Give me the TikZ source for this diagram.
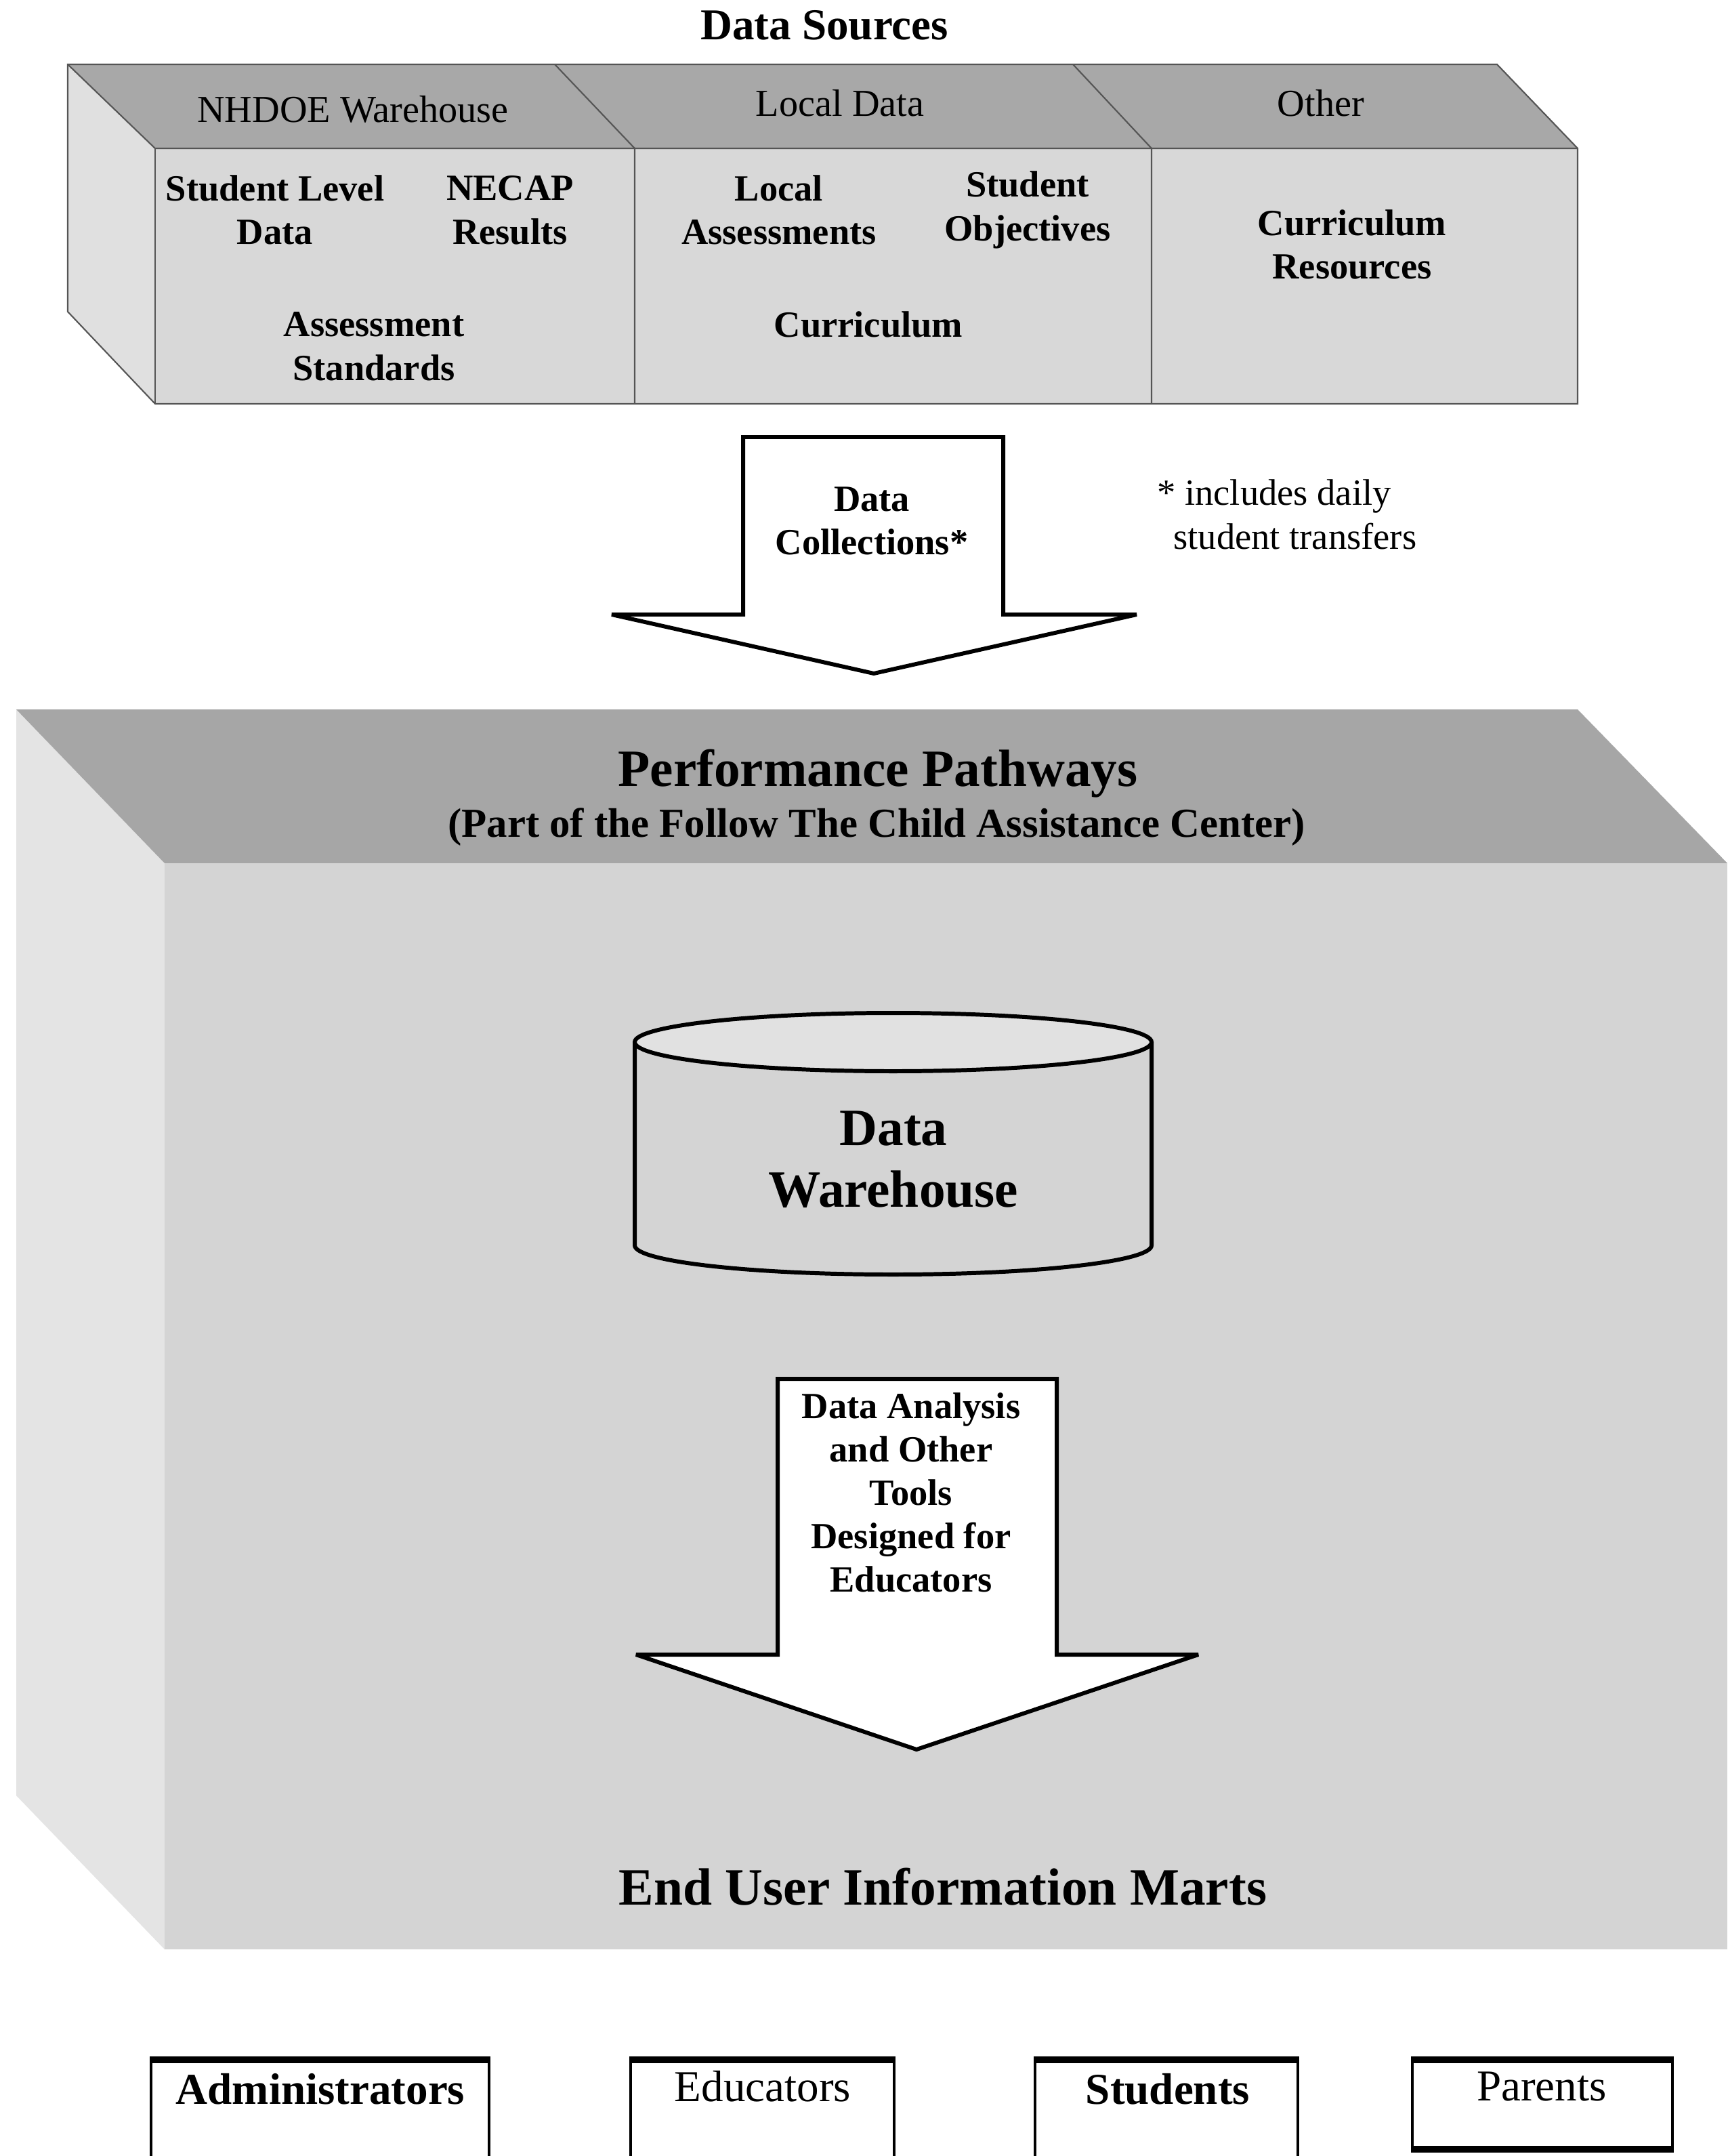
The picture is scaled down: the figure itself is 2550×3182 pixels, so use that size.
\documentclass[tikz,border=0pt]{standalone}
\usepackage{fontspec}
\setmainfont{Liberation Serif}
\usepackage{tikz}
\definecolor{DSTop}{HTML}{A8A8A8}
\definecolor{DSFront}{HTML}{D8D8D8}
\definecolor{DSSide}{HTML}{E0E0E0}
\definecolor{DSEdge}{HTML}{555555}
\definecolor{PPTop}{HTML}{A6A6A6}
\definecolor{PPFront}{HTML}{D4D4D4}
\definecolor{PPSide}{HTML}{E4E4E4}

\begin{document}
\begin{tikzpicture}[x=0.01cm,y=-0.01cm,
  lbl/.style={align=center,font=\fontsize{15.5}{18.4}\selectfont\bfseries},
  toplbl/.style={font=\fontsize{16}{19}\selectfont},
  biglbl/.style={align=center,font=\fontsize{22}{26}\selectfont\bfseries},
  blockarrow/.style={draw=black,fill=white,line width=1.7pt,line join=miter,miter limit=1.5},
  userbox/.style={draw=black,line width=1.2pt}]
\path[use as bounding box] (0,0) rectangle (2550,3182);
\clip (0,0) rectangle (2550,3182);
\fill[white] (0,0) rectangle (2550,3182);
% data sources
\node[font=\fontsize{18.5}{22}\selectfont\bfseries] (srctitle) at (1217,37) {Data Sources};
\fill[DSSide] (100,95) -- (229,219) -- (229,596) -- (100,460) -- cycle;
\fill[DSTop] (100,95) -- (2210,95) -- (2329,219) -- (229,219) -- cycle;
\fill[DSFront] (229,219) rectangle (2329,596);
\draw[DSEdge,line width=.6pt] (100,95) -- (2210,95) -- (2329,219) -- (2329,596) -- (229,596) -- (100,460) -- cycle;
\draw[DSEdge,line width=.6pt] (100,95) -- (229,219) -- (2329,219);
\draw[DSEdge,line width=.6pt] (229,219) -- (229,596);
\draw[DSEdge,line width=.6pt] (819,95) -- (937,219) -- (937,596);
\draw[DSEdge,line width=.6pt] (1584,95) -- (1700,219) -- (1700,596);
\node[toplbl] (nhdoe) at (521,161) {NHDOE Warehouse};
\node[toplbl] (localdata) at (1240,152) {Local Data};
\node[toplbl] (other) at (1950,152) {Other};
\node[lbl] (stulevel) at (406,310) {Student Level\\Data};
\node[lbl] (necap) at (753,310) {NECAP\\Results};
\node[lbl] (assess) at (552,511) {Assessment\\Standards};
\node[lbl] (localass) at (1150,310) {Local\\Assessments};
\node[lbl] (stuobj) at (1517,310) {Student\\Objectives};
\node[lbl] (curric) at (1282,479) {Curriculum};
\node[lbl] (curres) at (1996,361) {Curriculum\\Resources};
% data collections arrow
\draw[blockarrow] (1097,645) -- (1481,645) -- (1481,907) -- (1678,907) -- (1290,994) -- (903,907) -- (1097,907) -- cycle;
\node[lbl] (collect) at (1287,769) {Data\\Collections*};
\node[anchor=west,align=left,font=\fontsize{15.5}{18.4}\selectfont] (note) at (1696,759) {* includes daily\\\hspace*{0.24cm}student transfers};
% performance pathways block
\fill[PPSide] (24,1047) -- (243,1274) -- (243,2877) -- (24,2650) -- cycle;
\fill[PPTop] (24,1047) -- (2329,1047) -- (2550,1274) -- (243,1274) -- cycle;
\fill[PPFront] (243,1274) rectangle (2550,2877);
\node[biglbl] (pathways) at (1296,1142) {Performance Pathways};
\node[font=\fontsize{17.3}{20}\selectfont\bfseries] (ftcac) at (1294,1221) {(Part of the Follow The Child Assistance Center)};
% data warehouse
\draw[line width=1.7pt,fill=PPFront] (937,1538) -- (937,1838) arc[start angle=180,end angle=0,x radius=381.5,y radius=43] -- (1700,1538);
\draw[line width=1.7pt,fill=PPFront!70!white] (1318.5,1538) ellipse[x radius=381.5,y radius=43];
\node[biglbl] (dwh) at (1319,1711) {Data\\Warehouse};
% analysis arrow
\draw[blockarrow] (1148,2035) -- (1560,2035) -- (1560,2442) -- (1769,2442) -- (1353,2582) -- (939,2442) -- (1148,2442) -- cycle;
\node[lbl,font=\fontsize{15.5}{18.2}\selectfont\bfseries] (tools) at (1345,2203) {Data Analysis\\and Other\\Tools\\Designed for\\Educators};
\node[biglbl] (marts) at (1392,2785) {End User Information Marts};
% end users
\draw[userbox] (223,3200) -- (223,3037) -- (722,3037) -- (722,3200);
\draw[userbox] (931,3200) -- (931,3037) -- (1320,3037) -- (1320,3200);
\draw[userbox] (1528,3200) -- (1528,3037) -- (1916,3037) -- (1916,3200);
\draw[userbox] (2085,3037) rectangle (2469,3175);
\draw[line width=2.6pt] (223,3040) -- (722,3040);
\draw[line width=2.6pt] (931,3040) -- (1320,3040);
\draw[line width=2.6pt] (1528,3040) -- (1916,3040);
\draw[line width=2.6pt] (2085,3040) -- (2469,3040);
\draw[line width=2.6pt] (2085,3172) -- (2469,3172);
\node[font=\fontsize{18.5}{22}\selectfont\bfseries] (admins) at (473,3083) {Administrators};
\node[font=\fontsize{18.5}{22}\selectfont] (educators) at (1126,3079) {Educators};
\node[font=\fontsize{18.5}{22}\selectfont\bfseries] (students) at (1724,3083) {Students};
\node[font=\fontsize{18.5}{22}\selectfont] (parents) at (2276,3079) {Parents};
\end{tikzpicture}
\end{document}
